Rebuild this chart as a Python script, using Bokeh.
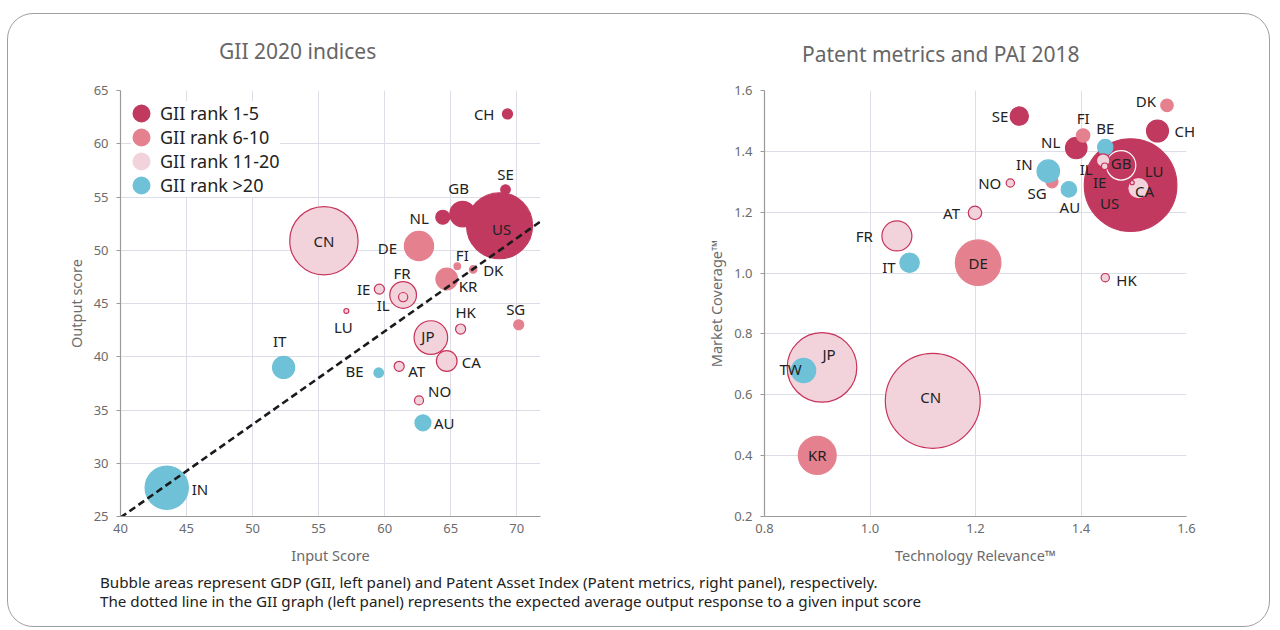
import math
from bokeh.plotting import figure
from bokeh.models import (ColumnDataSource, Range1d, Legend, LegendItem, Div, Spacer,
                          FixedTicker, NumeralTickFormatter, Label)
from bokeh.layouts import row, column
from bokeh.embed import file_html
from bokeh.resources import INLINE

# ---------------- data ----------------
GROUPS = ["GII rank 1-5", "GII rank 6-10", "GII rank 11-20", "GII rank >20"]

# Left panel: GII 2020 (input score, output score, GDP PPP in $tn)
gii_country = ["CN", "US", "IN", "JP", "DE", "FR", "GB", "IT", "KR", "CA", "AU", "NL",
               "HK", "IE", "AT", "SG", "CH", "SE", "BE", "NO", "IL", "DK", "FI", "LU"]
gii_input = [55.4, 68.7, 43.5, 63.5, 62.6, 61.4, 65.9, 52.35, 64.7, 64.7, 62.9, 64.4,
             65.75, 59.6, 61.1, 70.15, 69.3, 69.15, 59.55, 62.6, 61.4, 66.7, 65.5, 57.1]
gii_output = [50.9, 52.3, 27.7, 41.8, 50.4, 45.8, 53.4, 39.0, 47.3, 39.6, 33.8, 53.1,
              42.6, 46.35, 39.1, 43.0, 62.8, 55.7, 38.5, 35.9, 45.6, 48.2, 48.5, 44.3]
gii_gdp = [22.9, 21.4, 9.2, 5.55, 4.2, 3.5, 3.2, 2.4, 2.3, 2.1, 1.26, 0.96,
           0.5, 0.5, 0.5, 0.49, 0.5, 0.45, 0.45, 0.4, 0.42, 0.27, 0.21, 0.12]
gii_group = [2, 0, 3, 2, 1, 2, 0, 3, 1, 2, 3, 0,
             2, 2, 2, 1, 0, 0, 3, 2, 2, 1, 1, 2]

# expected average output response (dashed line)
trend_input = [40.0, 71.8]
trend_output = [24.9, 52.7]

# Right panel: patent metrics 2018 (technology relevance, market coverage, PAI relative)
pat_country = ["CN", "US", "JP", "DE", "KR", "FR", "GB", "TW", "SG", "IN", "CH", "NL",
               "CA", "IT", "SE", "BE", "AU", "AT", "FI", "IL", "DK", "NO", "HK", "IE", "LU"]
pat_tech = [1.119, 1.494, 0.909, 1.205, 0.900, 1.051, 1.476, 0.874, 1.345, 1.338, 1.545, 1.391,
            1.509, 1.075, 1.283, 1.446, 1.377, 1.199, 1.404, 1.442, 1.563, 1.266, 1.446, 1.445, 1.497]
pat_market = [0.580, 1.289, 0.690, 1.034, 0.401, 1.122, 1.354, 0.680, 1.300, 1.335, 1.467, 1.411,
              1.279, 1.034, 1.516, 1.414, 1.275, 1.198, 1.452, 1.370, 1.551, 1.296, 0.985, 1.351, 1.297]
pat_pai = [105, 100, 56.5, 24.2, 16.8, 10.5, 10.1, 6.9, 1.7, 5.9, 5.6, 5.4,
           5.4, 4.4, 3.9, 2.8, 2.8, 2.1, 2.1, 2.1, 1.8, 0.8, 0.8, 0.5, 0.2]
pat_group = [2, 0, 2, 1, 1, 2, 0, 3, 1, 3, 0, 0,
             2, 3, 0, 3, 3, 2, 1, 2, 1, 2, 2, 2, 2]

TITLES = ["GII 2020 indices", "Patent metrics and PAI 2018"]
CAPTION = ["Bubble areas represent GDP (GII, left panel) and Patent Asset Index (Patent metrics, right panel), respectively.",
           "The dotted line in the GII graph (left panel) represents the expected average output response to a given input score"]

# ---------------- styles ----------------
FILL = ["#C1395F", "#E5818F", "#F2D3DC", "#6EC1D6"]
EDGE = ["#C1395F", "#E5818F", "#C8325A", "#6EC1D6"]
FONT = "Noto Sans"
TXT = "#222222"
AX = "#6b6b6b"
GRID = "#dcdde6"

# label placement (pixels, screen-down positive) for each country, per panel
gii_lab = {"CN": (0, 0, "center"), "US": (2, 3, "center"), "IN": (25, 1, "left"),
           "JP": (-3, -2, "center"), "DE": (-22, 2, "right"), "FR": (-1, -22, "center"),
           "GB": (-4, -26, "center"), "IT": (-4, -26, "center"), "KR": (12, 7, "left"),
           "CA": (15, 1, "left"), "AU": (11, 0, "left"), "NL": (-14, 1, "right"),
           "HK": (5, -17, "center"), "IE": (-9, 0, "right"), "AT": (9, 5, "left"),
           "SG": (-3, -16, "center"), "CH": (-13, 0, "right"), "SE": (0, -16, "center"),
           "BE": (-15, -2, "right"), "NO": (9, -9, "left"), "IL": (-20, 8, "center"),
           "DK": (10, 1, "left"), "FI": (5, -11, "center"), "LU": (-3, 16, "center")}
pat_lab = {"CN": (-2, -4, "center"), "US": (-21, 18, "center"), "JP": (7, -13, "center"),
           "DE": (0, 0, "center"), "KR": (0, 0, "center"), "FR": (-24, 0, "right"),
           "GB": (0, -2, "center"), "TW": (-13, -1, "center"), "SG": (-15, 11, "center"),
           "IN": (-24, -7, "center"), "CH": (17, 0, "left"), "NL": (-16, -6, "right"),
           "CA": (6, 3, "center"), "IT": (-14, 4, "right"), "SE": (-11, 0, "right"),
           "BE": (0, -19, "center"), "AU": (1, 18, "center"), "AT": (-15, 0, "right"),
           "FI": (0, -18, "center"), "IL": (-17, 9, "center"), "DK": (-11, -4, "right"),
           "NO": (-9, 0, "right"), "HK": (11, 2, "left"), "IE": (-5, 16, "center"),
           "LU": (22, -12, "center")}
# labels that stick out of the plot frame (drawn unclipped)
OUTSIDE = {"right": ("CH",)}


def bubble_source(names, xs, ys, mags, groups, ref_mag, ref_diam, white_edge=()):
    diam = [ref_diam * math.sqrt(m / ref_mag) for m in mags]
    return ColumnDataSource(dict(
        x=xs, y=ys, name=names, size=diam,
        fill=[FILL[g] for g in groups],
        edge=["#ffffff" if n in white_edge else EDGE[g] for n, g in zip(names, groups)],
    ))


def style(p, xlabel, ylabel):
    # the panel titles are drawn as HTML above the figures; keep the built-in one empty
    p.title.text_font_size = "0px"
    p.title.standoff = 0
    p.outline_line_color = None
    p.background_fill_color = "white"
    p.border_fill_color = "white"
    for g in (p.xgrid[0], p.ygrid[0]):
        g.grid_line_color = GRID
        g.grid_line_width = 1
    for ax in (p.xaxis[0], p.yaxis[0]):
        ax.axis_line_color = "#9a9a9a"
        ax.axis_line_width = 1.2
        ax.major_tick_line_color = "#9a9a9a"
        ax.minor_tick_line_color = None
        ax.major_label_text_font = FONT
        ax.major_label_text_font_size = "13px"
        ax.major_label_text_color = AX
        ax.axis_label_text_font = FONT
        ax.axis_label_text_font_size = "14.5px"
        ax.axis_label_text_font_style = "normal"
        ax.axis_label_text_color = AX
    p.xaxis.axis_label = xlabel
    p.yaxis.axis_label = ylabel
    p.xaxis.major_tick_out = 0
    p.xaxis.major_tick_in = 0
    p.xaxis.major_label_standoff = 7
    p.xaxis.axis_label_standoff = 9
    p.yaxis.major_tick_out = 4
    p.yaxis.major_tick_in = 0
    p.yaxis.major_label_standoff = 8
    p.yaxis.axis_label_standoff = 5


def draw_bubbles(p, src, names, xs, ys, placement, outside=()):
    p.scatter("x", "y", source=src, size="size", fill_color="fill", line_color="edge",
              line_width=1.2, fill_alpha=1.0)
    for n, x, y in zip(names, xs, ys):
        dx, dy, align = placement[n]
        lab = Label(x=x, y=y, text=n, x_offset=dx, y_offset=-dy,
                    text_align=align, text_baseline="middle", text_font=FONT,
                    text_font_size="15px", text_color=TXT)
        if n in outside:
            p.add_layout(lab, "right")
        else:
            p.add_layout(lab)


def title_div(text, width, left, top):
    return Div(text=f'<div style="padding:{top}px 0 0 {left}px; font-family:\'{FONT}\'; '
                    f'font-size:21px; line-height:25px; color:#666666; white-space:nowrap">{text}</div>',
               width=width, height=53, margin=0)


# ---------------- left panel ----------------
p1 = figure(width=641, height=503, x_range=Range1d(40, 71.8), y_range=Range1d(25, 65),
            output_backend="svg", toolbar_location=None,
            min_border_left=112, min_border_right=109, min_border_top=17, min_border_bottom=54)
style(p1, "Input Score", "Output score")
p1.xaxis.ticker = FixedTicker(ticks=[40, 45, 50, 55, 60, 65, 70])
p1.yaxis.ticker = FixedTicker(ticks=[25, 30, 35, 40, 45, 50, 55, 60, 65])

src1 = bubble_source(gii_country, gii_input, gii_output, gii_gdp, gii_group, 21.4, 66)
draw_bubbles(p1, src1, gii_country, gii_input, gii_output, gii_lab)
p1.line(trend_input, trend_output, line_color="#1a1a1a", line_width=2.6, line_dash="7 4")

items = []
for i, lab in enumerate(GROUPS):
    r = p1.scatter([float("nan")], [float("nan")], size=8, fill_color=FILL[i],
                   line_color=FILL[i], line_width=10)
    items.append(LegendItem(label=lab, renderers=[r]))
leg = Legend(items=items, location="top_left", margin=11, padding=4, spacing=0,
             glyph_width=20, glyph_height=22, label_height=20, label_standoff=9,
             label_text_font=FONT, label_text_font_size="18px", label_text_color=TXT,
             border_line_color=None, background_fill_color="white", background_fill_alpha=1.0)
p1.add_layout(leg)

# ---------------- right panel ----------------
p2 = figure(width=620, height=503, x_range=Range1d(0.8, 1.6), y_range=Range1d(0.2, 1.6),
            output_backend="svg", toolbar_location=None,
            min_border_left=115, min_border_right=83, min_border_top=23, min_border_bottom=53)
style(p2, "Technology Relevance\u2122", "Market Coverage\u2122")
p2.xaxis.ticker = FixedTicker(ticks=[0.8, 1.0, 1.2, 1.4, 1.6])
p2.yaxis.ticker = FixedTicker(ticks=[0.2, 0.4, 0.6, 0.8, 1.0, 1.2, 1.4, 1.6])
p2.xaxis.formatter = NumeralTickFormatter(format="0.0")
p2.yaxis.formatter = NumeralTickFormatter(format="0.0")

src2 = bubble_source(pat_country, pat_tech, pat_market, pat_pai, pat_group, 100, 92.6,
                     white_edge=("GB",))
draw_bubbles(p2, src2, pat_country, pat_tech, pat_market, pat_lab, OUTSIDE["right"])

# ---------------- titles, caption & frame ----------------
titles = row(title_div(TITLES[0], 641, 211, 25), title_div(TITLES[1], 620, 153, 28))

caption = Div(
    text='<div style="padding-top:3px">' + "<br>".join(CAPTION) + "</div>",
    width=1100, height=56, margin=0,
    styles={"font-family": FONT, "font-size": "15.2px", "line-height": "19px", "color": TXT})

box = column(titles, row(p1, p2), row(Spacer(width=92, height=56), caption),
             styles={"border": "1.5px solid #a0a0a0", "border-radius": "26px",
                     "background-color": "white"})
root = column(Spacer(width=10, height=13), row(Spacer(width=7, height=10), box))

open("out.html", "w").write(file_html(root, INLINE))
